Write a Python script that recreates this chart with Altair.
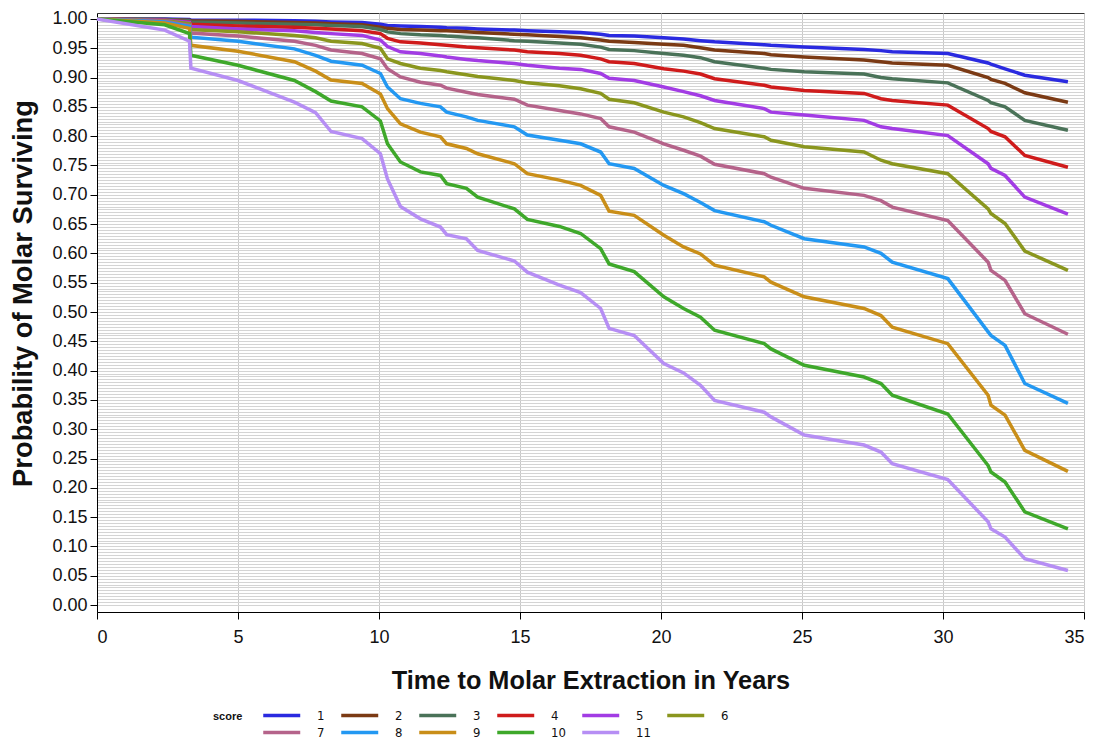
import altair as alt
import pandas as pd

# Time knots (years) at which the curves were read
years = [0, 2.4, 3.28, 3.33, 5.0, 7.0, 7.75, 8.3, 9.4, 10.05, 10.3, 10.76, 11.47,
         12.18, 12.4, 13.1, 13.5, 14.8, 15.26, 16.4, 17.15, 17.86, 18.16, 19.05,
         20.1, 20.8, 21.4, 21.9, 23.66, 23.9, 25.08, 27.2, 27.8, 28.2, 30.17,
         31.6, 31.7, 32.2, 32.9, 34.43]

score_labels = ["1", "2", "3", "4", "5", "6", "7", "8", "9", "10", "11"]
score_colors = ["#2a2ae0", "#7b3a14", "#4a7258", "#cf1b1b", "#a23ce4", "#8a961e",
                "#b5638a", "#2398f2", "#c98e18", "#3ea82a", "#b68ef4"]

s1 = [1.000, 1.000, 0.999, 0.998, 0.998, 0.997, 0.996, 0.995, 0.994, 0.991, 0.989, 0.988, 0.987,
      0.986, 0.985, 0.984, 0.983, 0.981, 0.980, 0.978, 0.977, 0.974, 0.972, 0.971,
      0.968, 0.966, 0.963, 0.961, 0.956, 0.955, 0.952, 0.948, 0.946, 0.944, 0.941,
      0.925, 0.923, 0.915, 0.904, 0.893]
s2 = [1.000, 0.999, 0.998, 0.997, 0.996, 0.994, 0.993, 0.992, 0.990, 0.986, 0.984, 0.982, 0.981,
      0.980, 0.980, 0.978, 0.977, 0.974, 0.973, 0.970, 0.968, 0.964, 0.962, 0.960,
      0.957, 0.955, 0.951, 0.947, 0.941, 0.939, 0.935, 0.930, 0.927, 0.925, 0.921,
      0.900, 0.897, 0.890, 0.874, 0.858]
s3 = [1.000, 0.999, 0.997, 0.995, 0.993, 0.991, 0.990, 0.989, 0.987, 0.982, 0.978, 0.975, 0.973,
      0.972, 0.971, 0.969, 0.968, 0.963, 0.962, 0.959, 0.957, 0.952, 0.948, 0.946,
      0.941, 0.938, 0.934, 0.927, 0.916, 0.914, 0.910, 0.906, 0.900, 0.898, 0.891,
      0.861, 0.857, 0.850, 0.827, 0.810]
s4 = [1.000, 0.998, 0.995, 0.991, 0.988, 0.986, 0.984, 0.983, 0.980, 0.975, 0.967, 0.961, 0.959,
      0.956, 0.955, 0.952, 0.951, 0.947, 0.944, 0.941, 0.938, 0.932, 0.927, 0.924,
      0.915, 0.911, 0.906, 0.898, 0.887, 0.884, 0.878, 0.873, 0.864, 0.861, 0.853,
      0.813, 0.808, 0.799, 0.767, 0.747]
s5 = [1.000, 0.998, 0.994, 0.987, 0.983, 0.980, 0.977, 0.975, 0.972, 0.964, 0.953, 0.944, 0.941,
      0.937, 0.935, 0.931, 0.929, 0.924, 0.921, 0.916, 0.914, 0.907, 0.899, 0.895,
      0.884, 0.876, 0.869, 0.861, 0.847, 0.841, 0.836, 0.827, 0.816, 0.813, 0.801,
      0.753, 0.745, 0.733, 0.696, 0.667]
s6 = [1.000, 0.997, 0.992, 0.982, 0.978, 0.972, 0.968, 0.962, 0.958, 0.950, 0.932, 0.924, 0.916,
      0.912, 0.910, 0.905, 0.902, 0.895, 0.891, 0.886, 0.881, 0.873, 0.863, 0.857,
      0.841, 0.833, 0.823, 0.813, 0.799, 0.793, 0.782, 0.773, 0.759, 0.753, 0.736,
      0.676, 0.668, 0.651, 0.604, 0.571]
s7 = [1.000, 0.996, 0.989, 0.976, 0.971, 0.962, 0.955, 0.947, 0.941, 0.932, 0.915, 0.901, 0.892,
      0.887, 0.882, 0.875, 0.871, 0.863, 0.853, 0.844, 0.838, 0.830, 0.816, 0.807,
      0.787, 0.776, 0.766, 0.752, 0.736, 0.730, 0.711, 0.699, 0.690, 0.679, 0.656,
      0.585, 0.571, 0.554, 0.497, 0.462]
s8 = [1.000, 0.995, 0.987, 0.969, 0.962, 0.949, 0.938, 0.928, 0.921, 0.907, 0.884, 0.864, 0.856,
      0.850, 0.841, 0.833, 0.827, 0.816, 0.802, 0.793, 0.787, 0.773, 0.753, 0.745,
      0.716, 0.702, 0.687, 0.673, 0.654, 0.648, 0.625, 0.611, 0.600, 0.585, 0.557,
      0.466, 0.460, 0.443, 0.378, 0.344]
s9 = [1.000, 0.993, 0.984, 0.955, 0.945, 0.927, 0.911, 0.896, 0.890, 0.872, 0.847, 0.821, 0.807,
      0.799, 0.787, 0.779, 0.770, 0.753, 0.736, 0.725, 0.716, 0.699, 0.672, 0.665,
      0.631, 0.611, 0.599, 0.580, 0.560, 0.551, 0.526, 0.506, 0.494, 0.474, 0.446,
      0.358, 0.341, 0.324, 0.264, 0.228]
s10 = [1.000, 0.990, 0.975, 0.938, 0.921, 0.895, 0.876, 0.860, 0.850, 0.826, 0.787, 0.756, 0.739,
       0.733, 0.719, 0.711, 0.696, 0.676, 0.658, 0.646, 0.634, 0.608, 0.582, 0.569,
       0.526, 0.506, 0.491, 0.469, 0.446, 0.437, 0.409, 0.389, 0.378, 0.358, 0.326,
       0.238, 0.227, 0.210, 0.159, 0.130]
s11 = [1.000, 0.981, 0.962, 0.916, 0.895, 0.858, 0.840, 0.808, 0.796, 0.770, 0.727, 0.680, 0.659,
       0.645, 0.632, 0.625, 0.605, 0.587, 0.568, 0.546, 0.533, 0.506, 0.472, 0.460,
       0.412, 0.396, 0.375, 0.349, 0.329, 0.321, 0.290, 0.273, 0.261, 0.241, 0.214,
       0.142, 0.130, 0.116, 0.079, 0.059]

series = [s1, s2, s3, s4, s5, s6, s7, s8, s9, s10, s11]

x_ticks = [0, 5, 10, 15, 20, 25, 30, 35]
y_grid = [round(i * 0.005, 3) for i in range(201)]

rows = []
for lab, vals in zip(score_labels, series):
    for t, s in zip(years, vals):
        rows.append({"score": lab, "t": t, "s": s})
df = pd.DataFrame(rows)

major_test = "abs(datum.value * 20 - round(datum.value * 20)) < 0.001"

chart = alt.Chart(df).mark_line(strokeWidth=3.5).encode(
    x=alt.X("t:Q",
            scale=alt.Scale(domain=[0, 35], nice=False, zero=False),
            axis=alt.Axis(values=x_ticks, title="Time to Molar Extraction in Years",
                          grid=True, gridColor="#c8c8c8", gridWidth=1,
                          labelFontSize=18, labelFont="Liberation Sans", labelColor="#111",
                          labelPadding=9, tickSize=7, tickColor="#000", domainColor="#000",
                          titleFontSize=25.3, titleFont="Liberation Sans", titleFontWeight="bold",
                          titleColor="#111", titleY=68, titleBaseline="middle")),
    y=alt.Y("s:Q",
            scale=alt.Scale(domain=[-0.0119, 1.0102], nice=False, zero=False),
            axis=alt.Axis(values=y_grid, title="Probability of Molar Surviving",
                          grid=True, gridColor="#d4d4d4", gridWidth=1,
                          labelExpr=major_test + " ? format(datum.value, '.2f') : ''",
                          labelOverlap=False, labelFontSize=18, labelFont="Liberation Sans",
                          labelColor="#111", labelPadding=3,
                          tickSize=7, tickColor="#000",
                          tickOpacity={"condition": {"test": major_test, "value": 1}, "value": 0},
                          domainColor="#000",
                          titleFontSize=27.3, titleFont="Liberation Sans", titleFontWeight="bold",
                          titleColor="#111", titleX=-74, titleY=280, titleBaseline="middle")),
    color=alt.Color("score:N", sort=score_labels,
                    scale=alt.Scale(domain=score_labels, range=score_colors),
                    legend=alt.Legend(title="score", orient="none", legendX=116, legendY=694,
                                      direction="horizontal", columns=6, gridAlign="none",
                                      titleOrient="left", titleFontSize=11,
                                      titleFont="Liberation Sans", titleFontWeight="bold",
                                      titlePadding=20, titleColor="#111",
                                      titleAnchor="start", titleBaseline="line-top",
                                      titleLineHeight=20,
                                      symbolType="M-1.27,0H4.42", symbolSize=169,
                                      symbolStrokeWidth=3.5,
                                      labelFont="'Liberation Sans Narrow', 'DejaVu Sans Condensed', sans-serif",
                                      labelFontSize=13, labelColor="#111", labelOffset=37,
                                      columnPadding=9, rowPadding=1)),
    order=alt.Order("t:Q"),
).properties(
    width=987, height=599,
    autosize=alt.AutoSizeParams(type="none"),
    padding={"left": 89, "top": 5, "right": 10, "bottom": 132},
).configure_view(stroke="#333", strokeWidth=1)

chart.save("out.html", embed_options={"renderer": "svg", "actions": False})
